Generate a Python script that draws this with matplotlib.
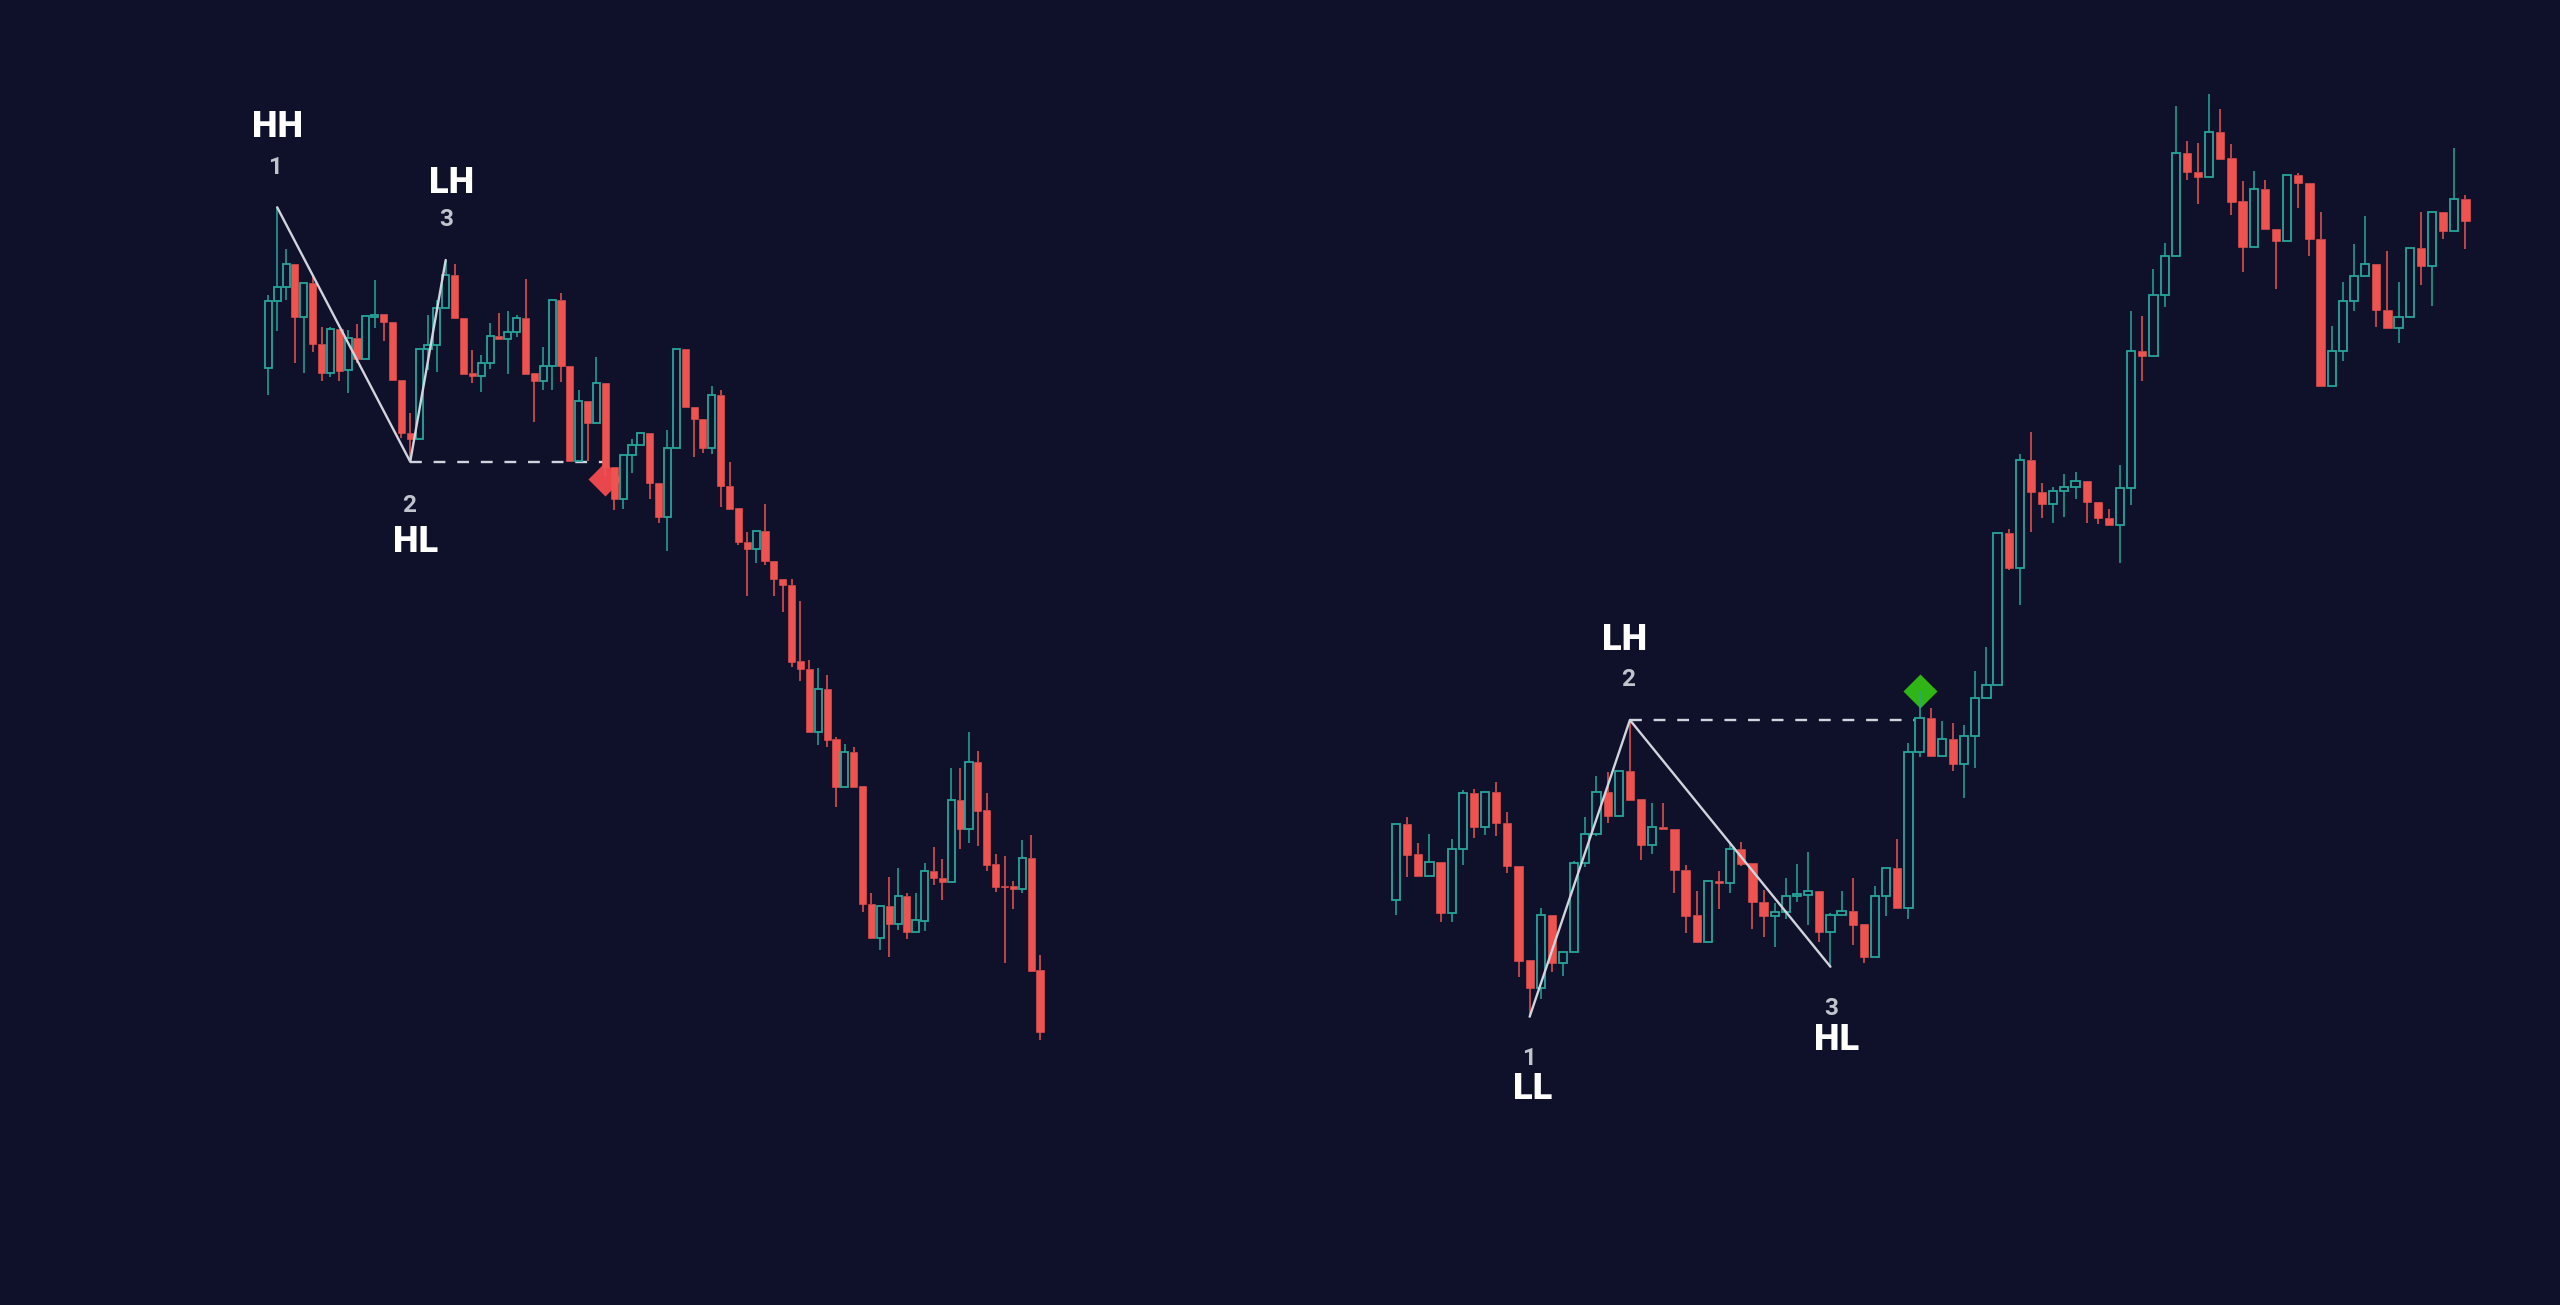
import matplotlib
matplotlib.use("Agg")
import matplotlib.pyplot as plt

BG = '#0f112a'
UP = '#26a69a'
DOWN = '#ef5350'
LINE = '#d1d4dc'
NUM = '#c0c4cc'

# ---------------- left chart (bearish structure break) ----------------
left_open = [932.3, 999.3, 1013.3, 1036, 982.7, 1017.3, 956, 926.7, 971.3, 930,
             961.7, 940.7, 983.3, 985.7, 977.7, 920, 866.7, 861, 950.7, 955,
             991.7, 1025, 982.3, 926.7, 924.3, 936.7, 964, 961.3, 968.3, 982.3,
             926.7, 919, 934.3, 1000, 934.3, 839.3, 899.3, 877.3, 916.7, 833.3,
             801, 845, 854.7, 866.7, 816.7, 782.7, 851.7, 950.7, 892.7, 880.7,
             852.3, 905, 814.3, 791.7, 757.7, 751, 769, 739.3, 720.7, 715,
             639, 631, 567.7, 611, 560.7, 513.3, 547.7, 514, 396, 361.7,
             394, 376, 404, 368.3, 379.3, 429, 422.3, 417.7, 500, 471,
             537.7, 490, 435.7, 414, 414, 411, 442.3, 330]
left_high = [1005, 1092.7, 1051, 1036, 1017.3, 1023.3, 972.7, 972.7, 971.3, 970,
             976, 984.3, 1020, 985.7, 977.7, 920, 887.3, 950.7, 985, 1000,
             1040, 1036, 982.3, 950, 945, 977.3, 987.3, 989.3, 984.7, 1020.7,
             926.7, 953.3, 1000, 1006.7, 934.3, 910, 899.3, 943.3, 916.7, 833.3,
             845, 860.7, 866.7, 866.7, 816.7, 870, 950.7, 950.7, 892.7, 880.7,
             914, 910, 837.7, 791.7, 767.7, 769, 796, 739.3, 720.7, 720.7,
             699.3, 640, 631.7, 625, 562.7, 555.7, 553.3, 514, 407.3, 394,
             422.7, 432.3, 406.7, 406.7, 436.7, 453.3, 441, 531.7, 531.7, 567.7,
             549, 506.7, 445.7, 444.3, 419.3, 460, 465, 345]
left_low = [905, 969.3, 1000, 937.3, 927.3, 948.3, 919, 923.3, 919.3, 906.7,
            936.7, 940.7, 971.7, 959.3, 920, 861.7, 838.3, 861, 930, 928.3,
            991.7, 981.7, 926, 916.7, 908.3, 930.7, 961.3, 926, 963.3, 926,
            878.3, 910, 910, 917.7, 839.3, 839.3, 839.3, 877.3, 824, 790,
            791, 827.3, 854.7, 801, 777.3, 749, 851.7, 892.7, 842.7, 846.7,
            846, 793.3, 791, 755, 704.3, 736.7, 735, 704.3, 688, 633.3,
            619, 567.7, 555, 553.3, 493.3, 513.3, 513.3, 388.3, 361.7, 350,
            343.3, 370, 360.7, 368.3, 369.3, 415, 400, 417.7, 451, 456.7,
            454.3, 429.3, 408.3, 336.7, 391, 406.7, 329.3, 260]
left_close = [999.3, 1013.3, 1036, 982.7, 1017.3, 955.7, 926.7, 971.3, 929.3, 961.7,
              940.7, 984.3, 985, 977.7, 920, 866.7, 861, 950.7, 955, 991.7,
              1025, 981.7, 926, 924, 936.7, 964, 961.3, 968.3, 982.3, 926,
              919, 934, 1000, 934.3, 839.3, 899.3, 877.3, 916.7, 833.3, 801,
              845, 854.7, 866.7, 816.7, 782.7, 851.7, 950.7, 892.7, 880.7, 852.3,
              905, 814.3, 791, 757.7, 751, 769, 739.3, 720.7, 715, 638.3,
              631, 567.7, 611, 560, 513.3, 547.7, 513.3, 396, 361.7, 394,
              376, 404, 368.3, 380, 429, 421.7, 417.7, 500, 471, 537.7,
              489.3, 435, 413.3, 412.7, 411, 441.7, 329.3, 268.3]

left_pivot_idx = [1, 16, 20]
left_pivot_kind = ['high', 'low', 'high']
left_break = (16, 38)            # dashed level: from pivot candle to break candle
left_signal = (38, 821)          # red diamond
left_labels = [("HH", 1.05, 1173, 'big'), ("1", 0.76, 1132, 'num'),
               ("LH", 20.68, 1116.7, 'big'), ("3", 20.03, 1080, 'num'),
               ("2", 15.83, 795, 'num'), ("HL", 16.62, 758.3, 'big')]

# ---------------- right chart (bullish structure break) ----------------
right_open = [400, 475.7, 445.7, 424.3, 437.7, 386.7, 450.7, 506.7, 472.7, 507.7,
              476.7, 434.3, 340, 311.7, 385, 337.3, 347.7, 436.7, 466, 508.3,
              484, 529.3, 500.7, 455, 473.3, 471, 430, 385, 357.7, 419.3,
              417.3, 450.7, 436.7, 398.3, 384.3, 387.7, 404, 405, 409, 367.7,
              385, 389.3, 375.7, 342.7, 404.3, 432.3, 391.7, 547.7, 582.1, 543.6,
              561.5, 535.6, 564, 601.8, 615.5, 767.4, 732, 840.4, 807.7, 796.3,
              808.7, 813.5, 819, 798.4, 782.5, 775, 811.7, 949.3, 944, 1005,
              1044.3, 1146.7, 1128.3, 1123.3, 1168.3, 1141.7, 1099.3, 1053.3, 1111, 1071,
              1059, 1125, 1117.3, 1061, 914, 949.3, 999, 1024.3, 1035.7, 990,
              971.7, 982.7, 1051.7, 1034.3, 1088.3, 1069.3, 1101]
right_high = [475.7, 483.3, 457.3, 466, 437.7, 460.7, 510, 510.7, 508.3, 517.7,
              488.3, 434.3, 340, 391.7, 385, 348.3, 439, 483.3, 524.3, 527.7,
              529.3, 580, 500.7, 497.3, 497.3, 471, 435, 409, 419.3, 429.3,
              458.3, 458.3, 436.7, 410, 396.7, 421.7, 436, 448.3, 409, 386.7,
              409, 421.7, 375.7, 414, 432.3, 460.7, 556.7, 609, 592.5, 579.4,
              577, 574.6, 629.3, 652.7, 767.4, 771.5, 845.6, 868, 817, 813.5,
              826, 828.3, 819, 798.4, 791.2, 835, 989.3, 984, 1030.7, 1056.7,
              1194.3, 1159, 1156.7, 1206, 1191, 1155.7, 1119, 1129, 1120, 1071,
              1125, 1127.3, 1117.3, 1088.3, 974.3, 1018.3, 1055.7, 1084, 1035.7, 1049.3,
              1017.7, 1051.7, 1088.3, 1088.3, 1088.3, 1152.3, 1105]
right_low = [385, 423.3, 424.3, 424.3, 377.7, 377.7, 435, 462.3, 465, 464,
             426.7, 323.3, 283.3, 300.7, 328.3, 324, 347.7, 432.7, 464, 477.3,
             484, 500, 440, 445.7, 471, 407.3, 367.3, 357.7, 357.7, 391,
             406.7, 434, 371, 363.3, 352.7, 380.7, 397.7, 375, 358.3, 333.3,
             385, 355, 336.7, 342.7, 384.3, 391.7, 380.7, 543.2, 543.6, 543.6,
             528.8, 502.2, 532.2, 601.8, 614.8, 730.2, 694.7, 768.1, 782.5, 776.7,
             782.9, 800.8, 776.7, 775.7, 775, 736.7, 795, 919, 944, 993.3,
             1044.3, 1120, 1096, 1123.3, 1140.7, 1085, 1028.3, 1053.3, 1070.7, 1011,
             1059, 1092.3, 1044.3, 914, 914, 939.3, 989, 1024.3, 972.7, 971.7,
             956.7, 982.7, 1015, 994.3, 1061, 1069.3, 1051]
right_close = [475.7, 445, 424.3, 437.7, 386.7, 450.7, 506.7, 472.7, 507.7, 476.7,
               434, 339.3, 311.7, 385, 337.3, 348.3, 436.7, 466, 508.3, 484,
               529.3, 500, 455, 473.3, 471, 430, 384.3, 357.7, 419.3, 417.3,
               450.7, 436, 397.7, 384.3, 388.3, 404.3, 405.7, 409, 367.7, 385,
               389.3, 375, 342.7, 404.3, 432.3, 391.7, 547.7, 582.1, 543.6, 561.5,
               535.6, 564, 601.8, 615.5, 767.4, 732, 840.4, 807.7, 796.3, 809.4,
               813.5, 819, 798.4, 782.2, 775, 811.7, 949.3, 944, 1005, 1044.3,
               1146.7, 1127.7, 1123.3, 1168.3, 1140.7, 1098.3, 1053.3, 1111, 1070.7, 1059,
               1125, 1116.7, 1061, 914, 949.3, 999, 1024.3, 1035.7, 990, 971.7,
               982.7, 1051.7, 1034, 1088.3, 1069.3, 1101, 1079.3]

right_pivot_idx = [12, 21, 39]
right_pivot_kind = ['low', 'high', 'low']
right_break = (21, 47)
right_signal = (47, 609.3)       # green diamond
right_labels = [("1", 11.94, 241.7, 'num'), ("LL", 12.3, 211, 'big'),
                ("LH", 20.56, 660, 'big'), ("2", 20.83, 621, 'num'),
                ("3", 39.05, 291.7, 'num'), ("HL", 39.56, 260, 'big')]

FONT = ['Roboto', 'DejaVu Sans']


def draw_candles(ax, o, h, l, c, width):
    for i in range(len(o)):
        up = c[i] >= o[i]
        col = UP if up else DOWN
        top = max(o[i], c[i])
        bot = min(o[i], c[i])
        if h[i] > top:
            ax.vlines(i, top, h[i], color=col, lw=1.1, zorder=3)
        if l[i] < bot:
            ax.vlines(i, l[i], bot, color=col, lw=1.1, zorder=3)
        hgt = max(top - bot, 1.2)
        if up:
            ax.bar(i, hgt, bottom=bot, width=width, facecolor=BG,
                   edgecolor=col, linewidth=1.3, zorder=4)
        else:
            ax.bar(i, hgt, bottom=bot, width=width, facecolor=col,
                   edgecolor=col, linewidth=0.4, zorder=4)


def draw_structure(ax, h, l, piv_idx, piv_kind, brk, sig, sig_color, labels):
    px = piv_idx
    py = [h[i] if k == 'high' else l[i] for i, k in zip(piv_idx, piv_kind)]
    ax.plot(px, py, color=LINE, lw=1.7, zorder=5, solid_capstyle='round')
    lvl_i = brk[0]
    lvl = h[lvl_i] if piv_kind[piv_idx.index(lvl_i)] == 'high' else l[lvl_i]
    ax.plot([brk[0], brk[1]], [lvl, lvl], color=LINE, lw=1.7,
            dashes=(5, 5), zorder=2)
    ax.plot([sig[0]], [sig[1]], marker=[(0, 1), (1, 0), (0, -1), (-1, 0), (0, 1)],
            markersize=24.5, color=sig_color, markeredgewidth=0, zorder=2)
    for txt, x, y, kind in labels:
        if kind == 'big':
            ax.text(x, y, txt, color='white', fontsize=26, fontweight='black',
                    family=FONT, ha='center', va='center', zorder=6)
        else:
            ax.text(x, y, txt, color=NUM, fontsize=17.5, fontweight='bold',
                    family=FONT, ha='center', va='center', zorder=6)


fig = plt.figure(figsize=(25.6, 13.05), dpi=100, facecolor=BG)
ax1 = fig.add_axes([0, 0, 0.5, 1])
ax2 = fig.add_axes([0.5, 0, 0.5, 1])
for ax in (ax1, ax2):
    ax.set_facecolor(BG)
    ax.set_axis_off()
    ax.set_ylim(-5, 1300)

ax1.set_xlim(-30.25, 114.06)
ax2.set_xlim(-10.41, 104.49)

draw_candles(ax1, left_open, left_high, left_low, left_close, 0.8)
draw_structure(ax1, left_high, left_low, left_pivot_idx, left_pivot_kind,
               left_break, left_signal, '#e8474d', left_labels)

draw_candles(ax2, right_open, right_high, right_low, right_close, 0.74)
draw_structure(ax2, right_high, right_low, right_pivot_idx, right_pivot_kind,
               right_break, right_signal, '#2fb515', right_labels)

fig.savefig('out.png', dpi=100, facecolor=BG)
